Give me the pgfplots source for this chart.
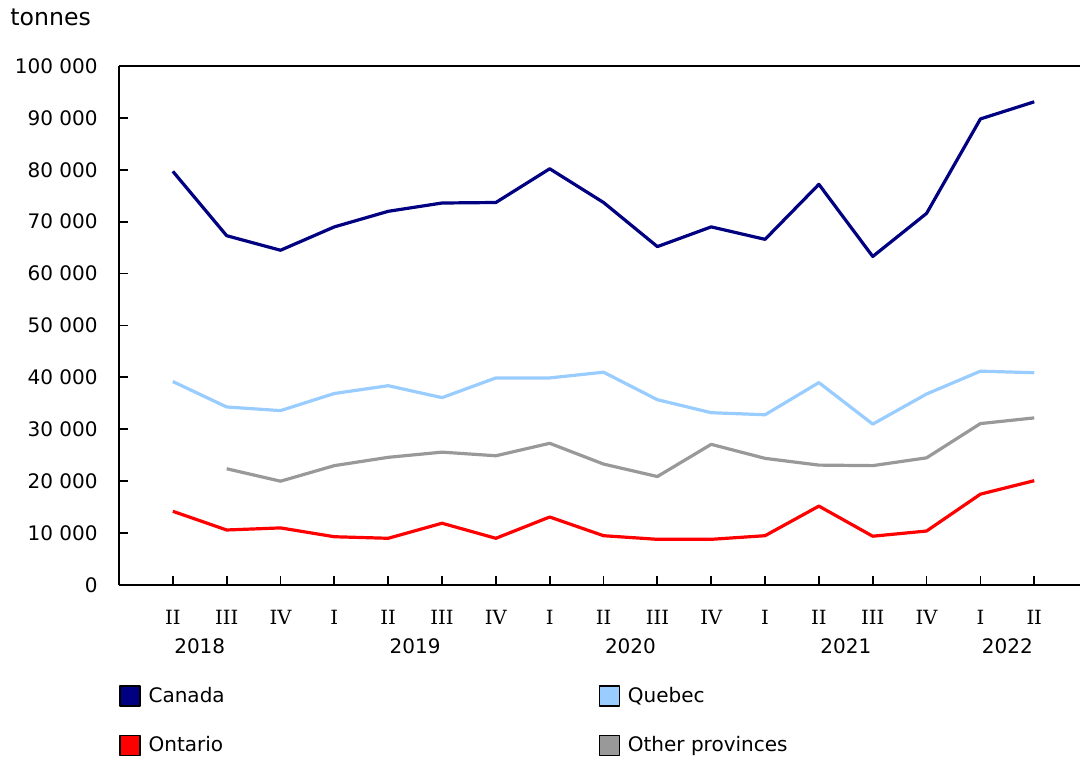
\documentclass[border=0pt]{standalone}
\usepackage{fontspec}
\setmainfont{DejaVu Sans}
\newfontfamily\romfont{DejaVu Serif}
\usepackage{pgfplots}
\pgfplotsset{compat=1.18}
\definecolor{canada}{HTML}{000080}
\definecolor{quebec}{HTML}{99CCFF}
\definecolor{ontario}{HTML}{FF0000}
\definecolor{other}{HTML}{999999}
\pgfplotsset{sqleg/.style={legend image code/.code={\draw[fill=#1,draw=black,line width=0.6pt] (0pt,-5pt) rectangle (10pt,5pt);}}}
\begin{document}
\begin{tikzpicture}
\useasboundingbox (0,0) rectangle (540.5pt,380pt);
\node[anchor=west,inner sep=0pt,font=\fontsize{11.8}{14}\selectfont] at (5pt,371.5pt) {tonnes};
\begin{axis}[
  at={(59.5pt,87.5pt)}, anchor=south west,
  scale only axis, width=480.5pt, height=259.5pt,
  xmin=-1, xmax=16.85, ymin=0, ymax=100000,
  axis x line*=bottom, axis y line*=left,
  axis line style={-, line width=0.9pt},
  tick style={black, line width=0.9pt},
  tick align=inside, major tick length=4.5pt,
  scaled y ticks=false,
  ytick={0,10000,20000,30000,40000,50000,60000,70000,80000,90000,100000},
  yticklabels={0,10 000,20 000,30 000,40 000,50 000,60 000,70 000,80 000,90 000,100 000},
  yticklabel style={anchor=east, inner sep=0pt, xshift=-10.5pt, font=\fontsize{10}{12}\selectfont},
  xtick={0,...,16},
  xticklabels={II,III,IV,I,II,III,IV,I,II,III,IV,I,II,III,IV,I,II},
  xticklabel style={anchor=north, inner sep=0pt, yshift=-12.5pt, font=\romfont\fontsize{9.8}{12}\selectfont},
  extra x ticks={0.5,4.5,8.5,12.5,15.5},
  extra x tick labels={2018,2019,2020,2021,2022},
  extra x tick style={major tick length=0pt, xticklabel style={yshift=-14pt, font=\fontsize{10}{12}\selectfont}},
  legend columns=2,
  legend style={at={(0,0)}, anchor=north west, yshift=-50pt, draw=none, inner sep=0pt,
    font=\fontsize{10}{12}\selectfont, row sep=14pt,
    nodes={inner sep=0pt, anchor=west},
    /tikz/every odd column/.append style={column sep=4pt},
    /tikz/every even column/.append style={column sep=187pt}},
  line join=round,
]
\draw[black, line width=0.9pt] (rel axis cs:0,1) -- (rel axis cs:1,1);
\addplot[color=canada, line width=1.6pt, sqleg=canada] coordinates {
(0,79700) (1,67300) (2,64500) (3,69000) (4,72000) (5,73600) (6,73700) (7,80200) (8,73700) (9,65200) (10,69000) (11,66600) (12,77200) (13,63300) (14,71600) (15,89800) (16,93100)};
\addlegendentry{Canada}
\addplot[color=quebec, line width=1.6pt, sqleg=quebec] coordinates {
(0,39200) (1,34300) (2,33600) (3,36900) (4,38400) (5,36100) (6,39900) (7,39900) (8,41000) (9,35700) (10,33200) (11,32800) (12,39000) (13,31000) (14,36800) (15,41200) (16,40900)};
\addlegendentry{Quebec}
\addplot[color=ontario, line width=1.6pt, sqleg=ontario] coordinates {
(0,14200) (1,10600) (2,11000) (3,9300) (4,9000) (5,11900) (6,9000) (7,13100) (8,9500) (9,8800) (10,8800) (11,9500) (12,15200) (13,9400) (14,10400) (15,17500) (16,20100)};
\addlegendentry{Ontario}
\addplot[color=other, line width=1.6pt, sqleg=other] coordinates {
(1,22400) (2,20000) (3,23000) (4,24600) (5,25600) (6,24900) (7,27300) (8,23300) (9,20900) (10,27100) (11,24400) (12,23100) (13,23000) (14,24500) (15,31100) (16,32200)};
\addlegendentry{Other provinces}
\end{axis}
\end{tikzpicture}
\end{document}
